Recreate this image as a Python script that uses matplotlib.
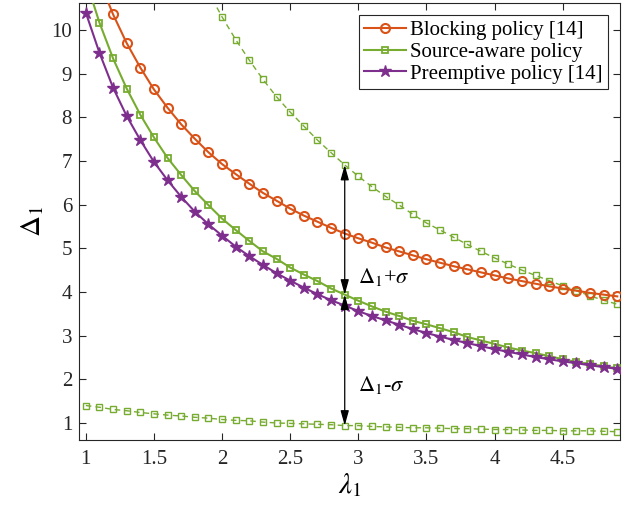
import numpy as np
import matplotlib
matplotlib.use("Agg")
import matplotlib.pyplot as plt

# ==== data ====
lam = np.round(np.arange(1.0, 4.95, 0.1), 1)

blocking = [12.05, 11.13, 10.36, 9.70, 9.14, 8.64, 8.22, 7.84, 7.51, 7.20,
            6.93, 6.70, 6.48, 6.27, 6.09, 5.91, 5.75, 5.61, 5.47, 5.34,
            5.23, 5.13, 5.02, 4.93, 4.84, 4.75, 4.67, 4.59, 4.52, 4.45,
            4.38, 4.31, 4.25, 4.19, 4.13, 4.08, 4.03, 3.98, 3.94, 3.90]

source_aware = [11.15, 10.17, 9.35, 8.66, 8.06, 7.54, 7.07, 6.68, 6.31, 5.99,
                5.68, 5.42, 5.17, 4.93, 4.76, 4.56, 4.40, 4.25, 4.08, 3.94,
                3.80, 3.67, 3.55, 3.45, 3.34, 3.26, 3.17, 3.08, 2.97, 2.89,
                2.81, 2.73, 2.66, 2.60, 2.53, 2.46, 2.40, 2.35, 2.30, 2.25]

preemptive = [10.40, 9.48, 8.68, 8.03, 7.48, 6.98, 6.56, 6.18, 5.84, 5.55,
              5.29, 5.04, 4.82, 4.62, 4.43, 4.26, 4.10, 3.95, 3.81, 3.69,
              3.56, 3.45, 3.35, 3.25, 3.15, 3.06, 2.98, 2.90, 2.83, 2.76,
              2.69, 2.63, 2.57, 2.51, 2.46, 2.41, 2.37, 2.32, 2.28, 2.24]

# source-aware +/- sigma (upper one leaves the frame below lambda = 2)
lam_upper = lam[8:]
upper = [11.50, 10.87,
         10.30, 9.78, 9.31, 8.87, 8.47, 8.12, 7.80, 7.48, 7.19, 6.91,
         6.65, 6.41, 6.19, 5.99, 5.78, 5.58, 5.42, 5.25, 5.09, 4.93,
         4.78, 4.64, 4.50, 4.38, 4.26, 4.14, 4.03, 3.91, 3.81, 3.72]

lower = [1.40, 1.36, 1.31, 1.28, 1.24, 1.21, 1.18, 1.16, 1.13, 1.11,
         1.08, 1.06, 1.05, 1.02, 1.00, 0.99, 0.98, 0.97, 0.96, 0.94,
         0.94, 0.92, 0.91, 0.90, 0.89, 0.89, 0.88, 0.87, 0.87, 0.86,
         0.85, 0.85, 0.84, 0.83, 0.83, 0.82, 0.82, 0.82, 0.81, 0.80]

ARROW_LAM = 2.9

C_ORANGE = "#D95319"
C_GREEN = "#77AC30"
C_PURPLE = "#7E2F8E"
AX_GREY = "#262626"

plt.rcParams["font.family"] = ["Liberation Serif", "DejaVu Serif"]
plt.rcParams["mathtext.fontset"] = "stix"

fig = plt.figure(figsize=(6.22, 5.14), dpi=100)
ax = fig.add_axes([79 / 622, 74 / 514, 541 / 622, 437 / 514])

# dashed +/- sigma curves
ax.plot(lam_upper, upper, linestyle=(0, (4, 3)), color=C_GREEN, lw=1.0,
        marker="s", ms=4, mfc="none", mew=1.0, zorder=2)
ax.plot(lam, lower, linestyle=(0, (4, 3)), color=C_GREEN, lw=1.0,
        marker="s", ms=4, mfc="none", mew=1.0, zorder=2)

ax.plot(lam, blocking, "-o", color=C_ORANGE, lw=1.5, ms=6.5, mfc="none",
        mew=1.5, label="Blocking policy [14]", zorder=3)
ax.plot(lam, source_aware, "-s", color=C_GREEN, lw=1.5, ms=5, mfc="none",
        mew=1.3, label="Source-aware policy", zorder=4)
ax.plot(lam, preemptive, "-*", color=C_PURPLE, lw=1.5, ms=9,
        label="Preemptive policy [14]", zorder=5)

# sigma arrows
i = list(lam).index(ARROW_LAM)
y_mid = source_aware[i]
y_hi = upper[list(lam_upper).index(ARROW_LAM)]
y_lo = lower[i]
arrow_kw = dict(arrowstyle="<|-|>,head_length=0.9,head_width=0.25",
                color="black", lw=0.9, shrinkA=0, shrinkB=0)
ax.annotate("", xy=(ARROW_LAM, y_hi), xytext=(ARROW_LAM, y_mid),
            arrowprops=arrow_kw, zorder=6)
ax.annotate("", xy=(ARROW_LAM, y_lo), xytext=(ARROW_LAM, y_mid),
            arrowprops=arrow_kw, zorder=6)
ax.text(3.0, 4.35, r"$\Delta_1$+$\sigma$", fontsize=16, ha="left", va="center")
ax.text(3.0, 1.87, r"$\Delta_1$-$\sigma$", fontsize=16, ha="left", va="center")

ax.set_xlim(0.95, 4.92)
ax.set_ylim(0.61, 10.62)
ax.set_xticks([1, 1.5, 2, 2.5, 3, 3.5, 4, 4.5])
ax.set_xticklabels(["1", "1.5", "2", "2.5", "3", "3.5", "4", "4.5"])
ax.set_yticks(range(1, 11))

for s in ax.spines.values():
    s.set_color(AX_GREY)
    s.set_linewidth(0.8)
ax.tick_params(direction="in", top=True, right=True, length=5, width=0.8,
               color=AX_GREY, labelcolor=AX_GREY, labelsize=15)
ax.tick_params(axis="x", pad=7)
ax.tick_params(axis="y", pad=5)

ax.set_xlabel(r"$\lambda_1$", fontsize=21, labelpad=2)
ax.set_ylabel(r"$\Delta_1$", fontsize=21, labelpad=4)

leg = ax.legend(loc="upper right", fontsize=15, handlelength=2.0,
                handletextpad=0.2, borderpad=0.25, labelspacing=0.1,
                borderaxespad=0.6, fancybox=False, framealpha=1,
                edgecolor=AX_GREY)
leg.get_frame().set_linewidth(0.8)

fig.savefig("out.png", dpi=100)
